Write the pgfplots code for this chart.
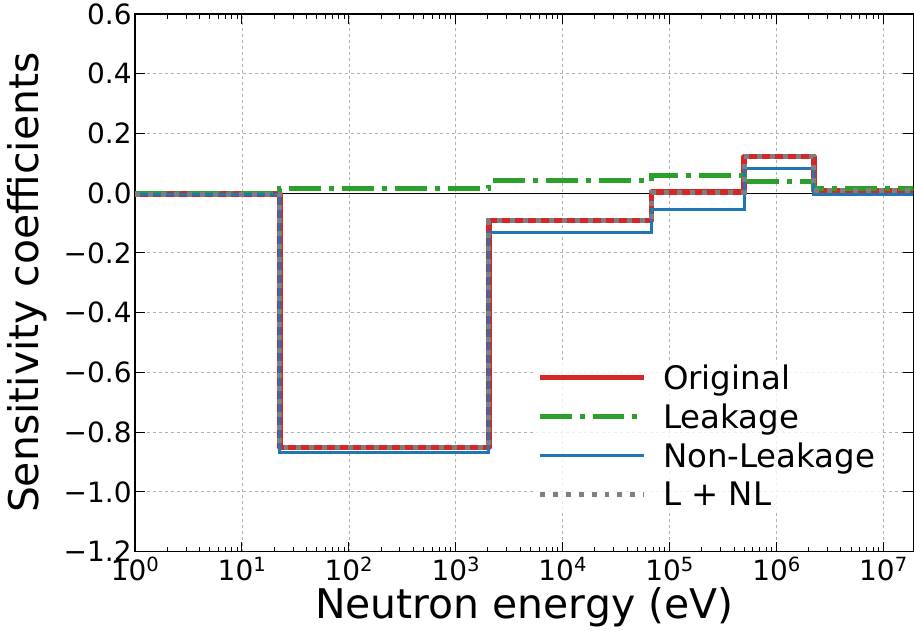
\documentclass[border=0pt]{standalone}
\usepackage{pgfplots}
\pgfplotsset{compat=1.18}
\usepackage{fontspec}
\setmainfont{DejaVu Sans}
\definecolor{tabred}{HTML}{D62728}
\definecolor{tabgreen}{HTML}{2CA02C}
\definecolor{tabblue}{HTML}{1F77B4}
\definecolor{tabgray}{HTML}{7F7F7F}
\definecolor{gridgray}{HTML}{B0B0B0}

\begin{document}
\begin{tikzpicture}
\begin{axis}[
    scale only axis,
    width=780pt, height=539pt,
    xmode=log,
    xmin=1, xmax=1.9e7,
    ymin=-1.2, ymax=0.6,
    xtick={1,10,100,1000,10000,100000,1000000,10000000},
    xticklabels={10\textsuperscript{0},10\textsuperscript{1},10\textsuperscript{2},10\textsuperscript{3},10\textsuperscript{4},10\textsuperscript{5},10\textsuperscript{6},10\textsuperscript{7}},
    ytick={-1.2,-1.0,-0.8,-0.6,-0.4,-0.2,0,0.2,0.4,0.6},
    yticklabels={−1.2,−1.0,−0.8,−0.6,−0.4,−0.2,0.0,0.2,0.4,0.6},
    tick align=inside,
    major tick length=10pt,
    minor tick length=5pt,
    every tick/.style={black, line width=1pt},
    axis line style={line width=1.5pt},
    xmajorgrids=true, ymajorgrids=true,
    major grid style={dashed, gridgray, line width=0.8pt},
    ticklabel style={font=\fontsize{28}{28}\selectfont},
    xticklabel style={yshift=-2pt},
    label style={font=\fontsize{41}{41}\selectfont},
    xlabel={Neutron energy (eV)},
    ylabel={Sensitivity coefficients},
    ylabel shift=10pt,
    legend style={at={(0.958,0.075)}, anchor=south east, draw=none,
        fill=white, fill opacity=0.8, text opacity=1,
        font=\fontsize{32.5}{32.5}\selectfont, row sep=9pt,
        cells={anchor=west},
        /tikz/every odd column/.append style={column sep=14pt}},
    legend image code/.code={\draw[#1] (0pt,0pt) -- (105pt,0pt);},
    clip mode=individual,
]
% zero line
\draw[black, line width=1pt] (axis cs:1,0) -- (axis cs:1.9e7,0);

% Original
\addplot[const plot, tabred, line width=5.5pt, line join=round] coordinates {
    (1,-0.003) (22.6,-0.852) (2035,-0.091) (67400,0.003) (498000,0.122) (2230000,0.009) (2e7,0.009)
};
\addlegendentry{Original}
% Leakage
\addplot[const plot, tabgreen, line width=5pt, dash pattern=on 32pt off 8pt on 5pt off 8pt] coordinates {
    (1,0.0) (22.6,0.015) (2035,0.041) (67400,0.058) (498000,0.040) (2230000,0.015) (2e7,0.015)
};
\addlegendentry{Leakage}
% Non-Leakage
\addplot[const plot, tabblue, line width=3pt] coordinates {
    (1,-0.003) (22.6,-0.867) (2035,-0.132) (67400,-0.055) (498000,0.083) (2230000,-0.005) (2e7,-0.005)
};
\addlegendentry{Non-Leakage}
% L + NL
\addplot[const plot, tabgray, line width=5pt, line cap=butt, dash pattern=on 5pt off 8pt] coordinates {
    (1,-0.003) (22.6,-0.852) (2035,-0.091) (67400,0.003) (498000,0.123) (2230000,0.010) (2e7,0.010)
};
\addlegendentry{L + NL}
\end{axis}
\path (current bounding box.west) ++(-4pt,0) coordinate (padleft);
\end{tikzpicture}
\end{document}
